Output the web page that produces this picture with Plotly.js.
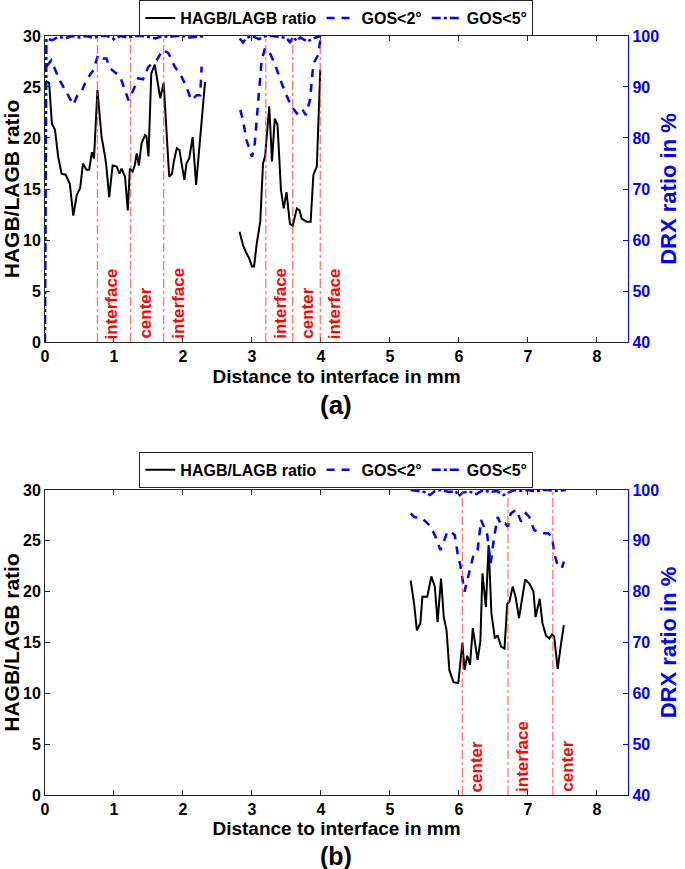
<!DOCTYPE html>
<html>
<head>
<meta charset="utf-8">
<script src="https://cdn.plot.ly/plotly-3.0.1.min.js"></script>
<style>html,body{margin:0;padding:0;background:#fff;}</style>
</head>
<body>
<div id="chart" style="width:685px;height:869px;"></div>
<script>
// ---------- DATA (a) ----------
const ratioA1X = [0.01,0.06,0.10,0.145,0.19,0.24,0.30,0.36,0.41,0.46,0.51,0.55,0.60,0.64,0.68,0.71,0.76,0.82,0.87,0.89,0.93,0.98,1.04,1.08,1.11,1.16,1.20,1.23,1.27,1.30,1.33,1.36,1.40,1.45,1.47,1.50,1.54,1.59,1.62,1.67,1.72,1.76,1.80,1.84,1.87,1.91,1.95,1.98,2.02,2.05,2.09,2.14,2.19,2.24,2.29,2.32];
const ratioA1Y = [25.6,25.4,21.4,20.8,18.2,16.5,16.4,15.5,12.4,14.4,15.1,17.5,16.9,16.9,18.6,18.0,24.7,20.1,18.2,17.2,14.2,17.3,17.2,16.5,17.0,16.2,12.9,17.0,16.7,17.3,18.5,17.3,19.5,20.3,20.2,18.2,26.3,27.2,26.0,23.9,25.4,20.8,16.2,16.5,17.8,19.0,18.8,17.5,15.9,17.5,18.0,20.1,15.4,19.3,23.5,25.5];
const ratioA2X = [2.82,2.87,2.92,2.96,3.00,3.03,3.07,3.12,3.16,3.19,3.25,3.29,3.33,3.37,3.42,3.46,3.50,3.55,3.59,3.65,3.69,3.72,3.79,3.85,3.89,3.94,3.99];
const ratioA2Y = [10.8,9.5,8.7,8.2,7.4,7.4,9.7,11.8,17.5,18.2,23.1,17.7,21.9,21.3,14.9,13.1,14.7,11.6,11.4,13.1,12.9,12.1,11.8,11.8,16.4,17.2,26.7];

const gos2A1X = [0.02,0.09,0.21,0.31,0.41,0.47,0.53,0.60,0.70,0.77,0.84,0.89,0.94,1.09,1.21,1.28,1.35,1.42,1.50,1.62,1.71,1.79,1.88,1.98,2.05,2.12,2.20,2.25,2.27];
const gos2A1Y = [94.0,95.2,91.4,88.8,86.5,88.4,89.1,91.4,93.3,96.3,95.6,95.6,93.7,92.0,87.4,89.4,91.7,91.5,94.0,95.3,97.3,96.6,94.0,92.0,90.0,87.4,88.4,88.4,94.0];
const gos2A2X = [2.83,2.87,2.92,3.00,3.04,3.09,3.14,3.19,3.26,3.33,3.43,3.53,3.58,3.65,3.72,3.78,3.84,3.89,3.96,3.99];
const gos2A2Y = [85.5,83.5,79.6,76.3,78.9,87.4,95.3,97.6,96.6,94.6,90.7,87.4,86.1,84.8,85.8,84.5,87.4,94.6,96.3,99.2];

const gos5A1X = [0,0.02,0.1,0.2,0.3,0.4,0.5,0.6,0.7,0.8,0.9,1.0,1.1,1.2,1.3,1.4,1.5,1.6,1.7,1.8,1.9,2.0,2.1,2.2,2.32];
const gos5A1Y = [40,99.5,99.2,99.8,99.6,100,99.7,100,99.6,100,100,99.4,100,99.7,100,100,99.8,99.5,100,99.8,100,100,99.7,99.8,100];
const gos5A2X = [2.82,2.87,2.92,3.0,3.1,3.2,3.3,3.4,3.5,3.55,3.6,3.65,3.7,3.8,3.9,4.0];
const gos5A2Y = [99.5,98.7,99.6,100,99.4,100,100,99.8,99.6,98.8,99.8,99.0,99.7,98.9,99.6,100];

const markersAX = [0.76,1.24,1.72,3.20,3.59,3.99];
const markersALabels = ['interface','center','interface','interface','center','interface'];

// ---------- DATA (b) ----------
const ratioBX = [5.30,5.35,5.39,5.44,5.47,5.54,5.60,5.65,5.69,5.74,5.78,5.82,5.86,5.92,5.99,6.05,6.08,6.12,6.16,6.20,6.27,6.31,6.34,6.39,6.43,6.47,6.52,6.56,6.61,6.66,6.70,6.73,6.78,6.82,6.87,6.90,6.96,7.02,7.08,7.11,7.17,7.21,7.26,7.31,7.35,7.38,7.43,7.48,7.52];
const ratioBY = [21.1,18.8,16.2,16.9,19.5,19.5,21.5,20.5,17.0,21.3,17.5,16.2,12.3,11.1,11.0,15.0,12.3,13.7,12.8,16.4,13.3,15.1,21.8,18.5,24.6,17.9,15.4,15.7,14.6,14.4,18.8,19.0,20.5,19.5,17.4,18.8,21.2,20.8,20.0,17.5,19.3,16.9,15.7,15.4,15.8,15.6,12.4,14.9,16.7];
const gos2BX = [5.30,5.35,5.47,5.52,5.59,5.66,5.73,5.79,5.83,5.88,5.94,5.98,6.02,6.08,6.13,6.21,6.27,6.32,6.36,6.41,6.46,6.51,6.56,6.61,6.67,6.71,6.75,6.83,6.90,6.97,7.02,7.09,7.19,7.29,7.35,7.38,7.43,7.49,7.52];
const gos2BY = [95.4,94.7,94.4,93.8,92.8,90.8,88.2,90.2,91.8,91.8,91.1,87.5,85.2,80.0,82.9,87.2,88.2,94.1,92.8,91.2,85.6,90.8,94.7,93.1,93.4,92.8,95.4,96.1,93.8,95.4,94.7,92.1,91.5,91.5,90.8,87.5,85.2,84.6,85.9];
const gos5BX = [5.30,5.40,5.50,5.58,5.65,5.75,5.85,5.95,6.0,6.05,6.15,6.25,6.35,6.45,6.55,6.65,6.7,6.8,6.9,7.0,7.1,7.2,7.3,7.4,7.55];
const gos5BY = [100,99.8,99.6,99.0,99.8,100,99.6,99.8,98.8,99.5,99.7,99.2,100,99.6,99.8,99.0,99.4,100,99.8,100,99.7,100,100,99.8,100];

const markersBX = [6.05,6.71,7.36];
const markersBLabels = ['center','interface','center'];

const xTickVals = [0,1,2,3,4,5,6,7,8];
const yLeftTicks = [0,5,10,15,20,25,30];
const yRightTicks = [40,50,60,70,80,90,100];
const seriesNames = ['HAGB/LAGB ratio','GOS<2°','GOS<5°'];

// ---------- helpers ----------
function join(x1, x2) { return x1.concat([null], x2); }
const FONT = 'Liberation Sans, Arial, sans-serif';
const AX = '#262626';

function traces(xr, yr, x2, y2, x5, y5, xa, ya, ya2, leg) {
  return [
    {x: xr, y: yr, xaxis: xa, yaxis: ya, name: seriesNames[0], legend: leg, mode: 'lines', line: {color: '#000', width: 2}, connectgaps: false},
    {x: x2, y: y2, xaxis: xa, yaxis: ya2, name: seriesNames[1], legend: leg, mode: 'lines', line: {color: '#0000ff', width: 2.5, dash: '8px,7px'}, connectgaps: false},
    {x: x5, y: y5, xaxis: xa, yaxis: ya2, name: seriesNames[2], legend: leg, mode: 'lines', line: {color: '#0000ff', width: 2.5, dash: 'dashdot'}, connectgaps: false}
  ];
}

const data = [].concat(
  traces(join(ratioA1X, ratioA2X), join(ratioA1Y, ratioA2Y), join(gos2A1X, gos2A2X), join(gos2A1Y, gos2A2Y), join(gos5A1X, gos5A2X), join(gos5A1Y, gos5A2Y), 'x', 'y', 'y2', 'legend'),
  traces(ratioBX, ratioBY, gos2BX, gos2BY, gos5BX, gos5BY, 'x2', 'y3', 'y4', 'legend2')
);

const shapes = [];
const annotations = [];
function addMarkers(xs, labels, xref, yref) {
  xs.forEach((v, i) => {
    shapes.push({type: 'line', xref: xref, yref: yref + ' domain', x0: v, x1: v, y0: 0, y1: 1,
      line: {color: 'rgba(255,60,60,0.7)', width: 1.3, dash: 'dashdot'}, layer: 'above'});
    annotations.push({text: labels[i], xref: xref, yref: yref, x: v, y: 0, xanchor: 'left', yanchor: 'bottom',
      xshift: 3, yshift: 1, textangle: -90, showarrow: false,
      font: {family: FONT, size: 17, color: '#ff0000', weight: 'bold'}});
  });
}
addMarkers(markersAX, markersALabels, 'x', 'y');
addMarkers(markersBX, markersBLabels, 'x2', 'y3');

annotations.push({text: '(a)', xref: 'paper', yref: 'paper', x: 0.491, y: 0.534, xanchor: 'center', yanchor: 'middle', showarrow: false,
  font: {family: FONT, size: 26, color: '#000', weight: 'bold'}});
annotations.push({text: '(b)', xref: 'paper', yref: 'paper', x: 0.491, y: 0, xanchor: 'center', yanchor: 'bottom', yshift: -3, showarrow: false,
  font: {family: FONT, size: 25, color: '#000', weight: 'bold'}});

const tickFont = {family: FONT, size: 16, color: '#000', weight: 'bold'};
const titleFont = {family: FONT, size: 19, color: '#000', weight: 'bold'};
const XDOM = [0.0657, 0.9168];

function xAxis(anchor, standoff) {
  return {domain: XDOM, anchor: anchor, range: [0, 8.45], tickmode: 'array', tickvals: xTickVals,
    ticks: 'inside', ticklen: 5, tickcolor: AX, showline: true, linecolor: AX, linewidth: 1, mirror: 'ticks',
    showgrid: false, zeroline: false, tickfont: tickFont,
    title: {text: 'Distance to interface in mm', font: titleFont, standoff: standoff}};
}
function yLeft(anchor, dom) {
  return {domain: dom, anchor: anchor, range: [0, 30], tickmode: 'array', tickvals: yLeftTicks,
    ticks: 'inside', ticklen: 5, tickcolor: AX, showline: true, linecolor: AX, linewidth: 1,
    showgrid: false, zeroline: false, tickfont: tickFont,
    title: {text: 'HAGB/LAGB ratio', font: {family: FONT, size: 21, color: '#000', weight: 'bold'}, standoff: 0}};
}
function yRight(anchor, over) {
  return {overlaying: over, side: 'right', anchor: anchor, range: [40, 100], tickmode: 'array', tickvals: yRightTicks,
    ticks: 'inside', ticklen: 5, tickcolor: '#0000ff', showline: true, linecolor: '#0000ff', linewidth: 1.2,
    showgrid: false, zeroline: false, tickfont: {family: FONT, size: 16, color: '#0000ff', weight: 'bold'},
    title: {text: 'DRX ratio in %', font: {family: FONT, size: 22, color: '#0000ff', weight: 'bold'}, standoff: 2}};
}

const legendBase = {orientation: 'h', x: 0.491, xanchor: 'center', yanchor: 'top', bgcolor: '#fff',
  bordercolor: AX, borderwidth: 1, itemwidth: 30, font: {family: FONT, size: 16, color: '#000', weight: 'bold'}, traceorder: 'normal'};

const layout = {
  width: 685, height: 869,
  margin: {l: 0, r: 0, t: 0, b: 0},
  paper_bgcolor: '#fff', plot_bgcolor: '#fff',
  font: {family: FONT},
  xaxis: xAxis('y', 5),
  yaxis: yLeft('x', [0.6064, 0.9586]),
  yaxis2: yRight('x', 'y'),
  xaxis2: xAxis('y3', 1),
  yaxis3: yLeft('x2', [0.0852, 0.4361]),
  yaxis4: yRight('x2', 'y3'),
  legend: Object.assign({}, legendBase, {y: 1.0}),
  legend2: Object.assign({}, legendBase, {y: 0.4799}),
  shapes: shapes,
  annotations: annotations
};

Plotly.newPlot('chart', data, layout, {displayModeBar: false, staticPlot: true});
</script>
</body>
</html>
